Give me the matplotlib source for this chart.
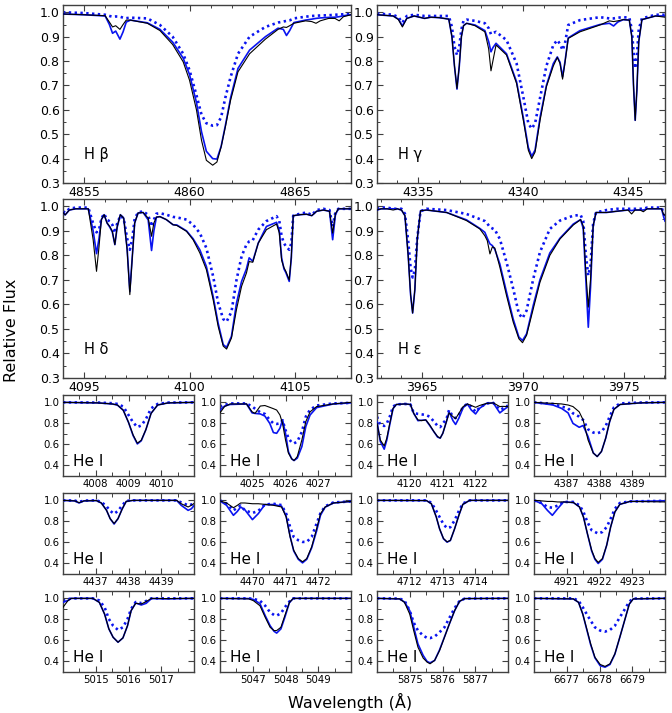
import matplotlib
matplotlib.use('Agg')
import matplotlib.pyplot as plt
from matplotlib.ticker import MultipleLocator, FixedLocator, FormatStrFormatter

# ---------------- data ----------------
# H beta
hb_wave = [4854.0, 4855.0, 4856.0, 4856.2, 4856.35, 4856.5, 4856.7, 4856.85, 4857.0, 4857.2, 4858.0, 4858.6, 4859.2, 4859.7, 4860.0, 4860.33, 4860.57, 4860.8, 4861.1, 4861.3, 4861.5, 4861.7, 4861.95, 4862.3, 4862.85, 4863.6, 4864.2, 4864.45, 4864.6, 4864.75, 4864.95, 4865.5, 4865.8, 4866.0, 4866.2, 4866.6, 4866.9, 4867.1, 4867.3, 4867.66]
hb_obs = [0.993, 0.990, 0.986, 0.960, 0.940, 0.945, 0.930, 0.950, 0.968, 0.968, 0.955, 0.925, 0.868, 0.797, 0.722, 0.600, 0.475, 0.393, 0.373, 0.386, 0.448, 0.530, 0.640, 0.756, 0.830, 0.890, 0.930, 0.940, 0.938, 0.945, 0.955, 0.965, 0.962, 0.955, 0.965, 0.975, 0.975, 0.965, 0.982, 0.990]
hb_fit = [0.993, 0.990, 0.985, 0.950, 0.914, 0.923, 0.890, 0.920, 0.960, 0.968, 0.957, 0.930, 0.878, 0.812, 0.745, 0.630, 0.510, 0.430, 0.400, 0.398, 0.450, 0.535, 0.650, 0.770, 0.845, 0.900, 0.935, 0.930, 0.905, 0.925, 0.958, 0.968, 0.972, 0.975, 0.977, 0.979, 0.980, 0.982, 0.986, 0.990]
hb_comp = [1.0, 0.997, 0.990, 0.985, 0.982, 0.983, 0.982, 0.978, 0.976, 0.978, 0.975, 0.948, 0.900, 0.830, 0.763, 0.660, 0.580, 0.545, 0.535, 0.537, 0.570, 0.650, 0.735, 0.830, 0.900, 0.940, 0.958, 0.962, 0.965, 0.967, 0.975, 0.982, 0.985, 0.986, 0.987, 0.988, 0.990, 0.991, 0.992, 0.993]

# H gamma
hg_wave = [4333.03, 4333.8, 4334.05, 4334.24, 4334.45, 4334.8, 4335.3, 4335.6, 4336.0, 4336.45, 4336.6, 4336.72, 4336.84, 4336.95, 4337.05, 4337.15, 4337.3, 4337.7, 4338.17, 4338.35, 4338.46, 4338.55, 4338.7, 4339.2, 4339.68, 4340.0, 4340.24, 4340.4, 4340.56, 4340.8, 4341.1, 4341.43, 4341.62, 4341.75, 4341.87, 4341.98, 4342.14, 4342.7, 4343.65, 4344.1, 4344.3, 4344.5, 4344.76, 4345.05, 4345.17, 4345.25, 4345.33, 4345.41, 4345.5, 4345.65, 4346.3, 4346.75]
hg_obs = [0.99, 0.985, 0.97, 0.94, 0.975, 0.985, 0.975, 0.98, 0.978, 0.972, 0.90, 0.78, 0.688, 0.78, 0.90, 0.945, 0.955, 0.945, 0.92, 0.85, 0.76, 0.80, 0.866, 0.825, 0.708, 0.558, 0.434, 0.40, 0.427, 0.558, 0.695, 0.78, 0.815, 0.79, 0.726, 0.79, 0.893, 0.92, 0.948, 0.965, 0.962, 0.965, 0.97, 0.968, 0.90, 0.70, 0.557, 0.68, 0.88, 0.97, 0.985, 0.98]
hg_fit = [0.99, 0.985, 0.972, 0.945, 0.975, 0.985, 0.975, 0.98, 0.978, 0.972, 0.90, 0.78, 0.685, 0.78, 0.90, 0.945, 0.955, 0.948, 0.925, 0.88, 0.838, 0.855, 0.873, 0.83, 0.715, 0.568, 0.445, 0.41, 0.435, 0.57, 0.70, 0.79, 0.817, 0.795, 0.735, 0.795, 0.895, 0.925, 0.95, 0.955, 0.944, 0.96, 0.97, 0.968, 0.90, 0.70, 0.557, 0.68, 0.88, 0.97, 0.985, 0.985]
hg_comp = [0.995, 0.99, 0.98, 0.958, 0.985, 0.99, 0.985, 0.985, 0.985, 0.985, 0.94, 0.86, 0.825, 0.86, 0.93, 0.965, 0.97, 0.965, 0.955, 0.935, 0.91, 0.915, 0.92, 0.886, 0.79, 0.653, 0.544, 0.523, 0.544, 0.65, 0.78, 0.866, 0.886, 0.87, 0.845, 0.87, 0.948, 0.968, 0.98, 0.975, 0.975, 0.978, 0.98, 0.978, 0.93, 0.84, 0.77, 0.82, 0.93, 0.975, 0.99, 0.99]

# H delta
hd_wave = [4094.0, 4094.1, 4094.3, 4094.6, 4095.0, 4095.2, 4095.43, 4095.59, 4095.71, 4095.82, 4095.95, 4096.09, 4096.22, 4096.34, 4096.46, 4096.57, 4096.72, 4096.88, 4097.04, 4097.17, 4097.29, 4097.4, 4097.56, 4097.8, 4098.04, 4098.2, 4098.31, 4098.43, 4098.6, 4098.9, 4099.22, 4099.4, 4099.86, 4100.17, 4100.49, 4100.8, 4101.12, 4101.36, 4101.6, 4101.76, 4101.99, 4102.23, 4102.47, 4102.7, 4102.83, 4103.0, 4103.26, 4103.65, 4104.13, 4104.26, 4104.37, 4104.48, 4104.57, 4104.73, 4104.83, 4104.92, 4105.24, 4105.55, 4105.8, 4106.03, 4106.35, 4106.64, 4106.79, 4106.92, 4107.06, 4107.66]
hd_obs = [0.975, 0.965, 0.985, 0.99, 0.99, 0.99, 0.864, 0.735, 0.837, 0.946, 0.966, 0.932, 0.918, 0.898, 0.844, 0.918, 0.966, 0.952, 0.823, 0.640, 0.796, 0.932, 0.973, 0.975, 0.952, 0.878, 0.932, 0.956, 0.958, 0.946, 0.925, 0.922, 0.898, 0.864, 0.81, 0.742, 0.62, 0.51, 0.43, 0.418, 0.463, 0.58, 0.674, 0.728, 0.775, 0.772, 0.85, 0.905, 0.928, 0.891, 0.78, 0.75, 0.735, 0.70, 0.796, 0.962, 0.966, 0.968, 0.962, 0.98, 0.985, 0.98, 0.891, 0.97, 0.99, 0.99]
hd_fit = [0.975, 0.965, 0.985, 0.99, 0.99, 0.99, 0.90, 0.807, 0.87, 0.946, 0.966, 0.932, 0.915, 0.895, 0.844, 0.915, 0.966, 0.952, 0.83, 0.653, 0.80, 0.932, 0.973, 0.975, 0.945, 0.82, 0.90, 0.956, 0.958, 0.946, 0.925, 0.924, 0.90, 0.868, 0.823, 0.755, 0.633, 0.523, 0.436, 0.425, 0.47, 0.606, 0.694, 0.745, 0.79, 0.776, 0.85, 0.918, 0.935, 0.90, 0.79, 0.745, 0.73, 0.694, 0.79, 0.962, 0.966, 0.968, 0.962, 0.98, 0.985, 0.98, 0.864, 0.965, 0.99, 0.99]
hd_comp = [0.98, 0.975, 0.99, 0.995, 0.995, 0.995, 0.93, 0.894, 0.905, 0.95, 0.97, 0.945, 0.939, 0.925, 0.891, 0.93, 0.962, 0.95, 0.87, 0.823, 0.87, 0.95, 0.975, 0.98, 0.965, 0.918, 0.945, 0.97, 0.972, 0.966, 0.957, 0.955, 0.946, 0.925, 0.891, 0.83, 0.715, 0.606, 0.54, 0.53, 0.57, 0.70, 0.796, 0.844, 0.857, 0.862, 0.905, 0.94, 0.96, 0.94, 0.878, 0.85, 0.837, 0.823, 0.85, 0.962, 0.97, 0.975, 0.965, 0.985, 0.99, 0.985, 0.918, 0.975, 0.99, 0.99]

# H epsilon
he_wave = [3962.8, 3963.0, 3963.3, 3963.6, 3963.8, 3964.01, 3964.18, 3964.34, 3964.46, 3964.56, 3964.67, 3964.79, 3964.95, 3965.25, 3966.24, 3967.22, 3967.88, 3968.13, 3968.25, 3968.38, 3968.5, 3968.62, 3968.87, 3969.2, 3969.53, 3969.81, 3969.99, 3970.19, 3970.52, 3970.85, 3971.34, 3971.84, 3972.5, 3972.86, 3972.99, 3973.12, 3973.24, 3973.35, 3973.48, 3973.62, 3974.14, 3974.64, 3975.2, 3975.38, 3975.55, 3975.8, 3975.96, 3976.15, 3976.45, 3976.86, 3976.97, 3977.03]
he_obs = [0.985, 0.99, 0.99, 0.985, 0.99, 0.985, 0.962, 0.80, 0.64, 0.565, 0.66, 0.867, 0.982, 0.985, 0.975, 0.942, 0.908, 0.88, 0.86, 0.806, 0.835, 0.83, 0.752, 0.636, 0.528, 0.46, 0.444, 0.474, 0.582, 0.69, 0.80, 0.867, 0.924, 0.946, 0.92, 0.73, 0.589, 0.70, 0.92, 0.975, 0.975, 0.98, 0.985, 0.969, 0.985, 0.985, 0.978, 0.99, 0.99, 0.99, 0.965, 0.965]
he_fit = [0.985, 0.99, 0.99, 0.99, 0.99, 0.985, 0.962, 0.80, 0.64, 0.565, 0.66, 0.867, 0.982, 0.985, 0.975, 0.945, 0.91, 0.894, 0.87, 0.847, 0.84, 0.825, 0.765, 0.65, 0.54, 0.467, 0.453, 0.48, 0.596, 0.70, 0.81, 0.87, 0.928, 0.946, 0.91, 0.70, 0.507, 0.67, 0.92, 0.975, 0.975, 0.98, 0.985, 0.983, 0.985, 0.985, 0.985, 0.99, 0.99, 0.99, 0.955, 0.94]
he_comp = [0.99, 0.995, 0.995, 0.99, 0.99, 0.99, 0.97, 0.86, 0.75, 0.71, 0.74, 0.87, 0.98, 0.99, 0.985, 0.969, 0.948, 0.94, 0.93, 0.915, 0.91, 0.905, 0.867, 0.772, 0.664, 0.562, 0.544, 0.575, 0.704, 0.813, 0.908, 0.942, 0.962, 0.965, 0.94, 0.80, 0.718, 0.76, 0.93, 0.975, 0.985, 0.99, 0.99, 0.99, 0.99, 0.99, 0.99, 0.995, 0.995, 0.995, 0.97, 0.96]

# He I 4009
he4009_wave = [4007.0, 4008.07, 4008.5, 4008.66, 4008.84, 4009.0, 4009.14, 4009.27, 4009.39, 4009.53, 4009.69, 4009.89, 4010.21, 4011.0]
he4009_obs = [1.0, 0.995, 0.985, 0.975, 0.925, 0.81, 0.69, 0.612, 0.64, 0.74, 0.896, 0.975, 0.995, 1.0]
he4009_fit = [1.0, 0.995, 0.985, 0.975, 0.925, 0.81, 0.685, 0.605, 0.635, 0.74, 0.896, 0.975, 0.995, 1.0]
he4009_comp = [1.0, 0.998, 0.992, 0.985, 0.96, 0.88, 0.81, 0.765, 0.78, 0.84, 0.943, 0.985, 0.998, 1.0]

# He I 4026
he4026_wave = [4024.0, 4024.14, 4024.31, 4024.81, 4024.98, 4025.07, 4025.23, 4025.37, 4025.52, 4025.63, 4025.73, 4025.83, 4025.91, 4026.0, 4026.09, 4026.19, 4026.26, 4026.36, 4026.5, 4026.62, 4026.75, 4026.95, 4027.46, 4028.0]
he4026_obs = [0.90, 0.96, 0.985, 0.985, 0.91, 0.895, 0.965, 0.97, 0.953, 0.94, 0.927, 0.88, 0.80, 0.643, 0.517, 0.463, 0.447, 0.485, 0.643, 0.817, 0.91, 0.96, 0.985, 1.0]
he4026_fit = [0.927, 0.965, 0.98, 0.985, 0.90, 0.895, 0.89, 0.87, 0.80, 0.713, 0.706, 0.754, 0.833, 0.706, 0.53, 0.463, 0.447, 0.47, 0.58, 0.77, 0.88, 0.95, 0.985, 0.995]
he4026_comp = [0.96, 0.975, 0.99, 0.99, 0.96, 0.94, 0.905, 0.89, 0.833, 0.80, 0.795, 0.80, 0.83, 0.737, 0.66, 0.618, 0.61, 0.627, 0.72, 0.864, 0.93, 0.97, 0.99, 0.995]

# He I 4121
he4121_wave = [4119.0, 4119.1, 4119.22, 4119.3, 4119.39, 4119.49, 4119.59, 4119.85, 4120.02, 4120.12, 4120.25, 4120.36, 4120.49, 4120.61, 4120.74, 4120.85, 4120.93, 4121.01, 4121.12, 4121.2, 4121.32, 4121.4, 4121.5, 4121.63, 4121.76, 4121.88, 4122.01, 4122.13, 4122.34, 4122.55, 4122.75, 4122.83, 4123.0]
he4121_obs = [0.80, 0.643, 0.586, 0.66, 0.80, 0.943, 0.98, 0.985, 0.98, 0.896, 0.833, 0.826, 0.833, 0.785, 0.72, 0.675, 0.66, 0.706, 0.817, 0.90, 0.864, 0.845, 0.896, 0.96, 0.985, 0.97, 0.953, 0.97, 0.99, 0.995, 0.96, 0.962, 0.96]
he4121_fit = [0.817, 0.63, 0.555, 0.643, 0.79, 0.94, 0.98, 0.985, 0.98, 0.896, 0.826, 0.83, 0.833, 0.78, 0.72, 0.67, 0.66, 0.706, 0.817, 0.91, 0.826, 0.79, 0.85, 0.95, 0.985, 0.927, 0.89, 0.943, 0.99, 0.995, 0.90, 0.92, 0.96]
he4121_comp = [0.864, 0.785, 0.776, 0.80, 0.864, 0.96, 0.98, 0.985, 0.98, 0.90, 0.89, 0.886, 0.88, 0.864, 0.817, 0.776, 0.765, 0.80, 0.84, 0.927, 0.864, 0.85, 0.88, 0.96, 0.985, 0.96, 0.91, 0.95, 0.99, 0.995, 0.93, 0.94, 0.97]

# He I 4388
he4388_wave = [4386.0, 4386.58, 4386.84, 4387.04, 4387.19, 4387.38, 4387.5, 4387.65, 4387.81, 4387.93, 4388.06, 4388.19, 4388.31, 4388.44, 4388.63, 4389.24, 4390.0]
he4388_obs = [1.0, 0.99, 0.985, 0.975, 0.96, 0.91, 0.833, 0.643, 0.517, 0.485, 0.533, 0.66, 0.817, 0.934, 0.98, 0.995, 1.0]
he4388_fit = [1.0, 0.975, 0.943, 0.90, 0.80, 0.763, 0.78, 0.675, 0.52, 0.485, 0.533, 0.66, 0.817, 0.934, 0.98, 0.995, 1.0]
he4388_comp = [1.0, 0.985, 0.96, 0.943, 0.896, 0.864, 0.833, 0.744, 0.713, 0.706, 0.72, 0.776, 0.864, 0.953, 0.99, 0.998, 1.0]

# He I 4438
he4438_wave = [4436.0, 4436.36, 4436.49, 4436.64, 4437.02, 4437.17, 4437.33, 4437.44, 4437.56, 4437.68, 4437.81, 4437.93, 4438.14, 4439.47, 4439.61, 4439.82, 4439.92, 4440.0]
he4438_obs = [1.0, 0.995, 0.978, 0.995, 0.998, 0.975, 0.905, 0.826, 0.78, 0.826, 0.92, 0.99, 1.0, 1.0, 0.968, 0.937, 0.953, 0.97]
he4438_fit = [1.0, 0.995, 0.975, 0.995, 0.998, 0.975, 0.905, 0.826, 0.775, 0.826, 0.92, 0.99, 1.0, 1.0, 0.953, 0.905, 0.92, 0.95]
he4438_comp = [1.0, 0.998, 0.985, 0.998, 1.0, 0.985, 0.943, 0.90, 0.872, 0.90, 0.953, 0.995, 1.0, 1.0, 0.98, 0.953, 0.96, 0.97]

# He I 4471
he4471_wave = [4469.0, 4469.2, 4469.41, 4469.53, 4469.63, 4469.76, 4469.99, 4470.17, 4470.37, 4470.63, 4470.88, 4471.02, 4471.14, 4471.25, 4471.39, 4471.52, 4471.65, 4471.8, 4471.95, 4472.07, 4472.21, 4472.46, 4473.0]
he4471_obs = [0.995, 0.975, 0.93, 0.953, 0.975, 0.975, 0.968, 0.968, 0.962, 0.953, 0.937, 0.842, 0.653, 0.526, 0.447, 0.416, 0.447, 0.558, 0.73, 0.874, 0.937, 0.975, 0.99]
he4471_fit = [0.995, 0.953, 0.858, 0.895, 0.937, 0.91, 0.817, 0.874, 0.96, 0.96, 0.945, 0.85, 0.66, 0.52, 0.44, 0.406, 0.44, 0.55, 0.71, 0.86, 0.935, 0.975, 0.99]
he4471_comp = [1.0, 0.97, 0.905, 0.93, 0.95, 0.905, 0.88, 0.90, 0.96, 0.968, 0.955, 0.874, 0.747, 0.653, 0.621, 0.605, 0.605, 0.653, 0.78, 0.88, 0.943, 0.98, 0.99]

# He I 4713
he4713_wave = [4711.0, 4712.51, 4712.66, 4712.81, 4712.91, 4713.03, 4713.14, 4713.24, 4713.37, 4713.5, 4713.62, 4713.83, 4715.0]
he4713_obs = [1.0, 0.998, 0.968, 0.842, 0.73, 0.637, 0.605, 0.62, 0.73, 0.858, 0.962, 1.0, 1.0]
he4713_fit = [1.0, 0.998, 0.968, 0.842, 0.73, 0.635, 0.603, 0.618, 0.73, 0.858, 0.962, 1.0, 1.0]
he4713_comp = [1.0, 1.0, 0.978, 0.90, 0.842, 0.773, 0.735, 0.745, 0.81, 0.90, 0.97, 1.0, 1.0]

# He I 4922
he4922_wave = [4920.0, 4920.24, 4920.41, 4920.56, 4920.72, 4920.9, 4921.2, 4921.39, 4921.51, 4921.63, 4921.76, 4921.86, 4921.96, 4922.09, 4922.22, 4922.34, 4922.47, 4922.62, 4922.93, 4924.0]
he4922_obs = [1.0, 0.995, 0.99, 0.99, 0.985, 0.985, 0.98, 0.937, 0.842, 0.684, 0.526, 0.447, 0.41, 0.447, 0.574, 0.747, 0.89, 0.962, 0.99, 0.985]
he4922_fit = [1.0, 0.968, 0.905, 0.858, 0.92, 0.985, 0.98, 0.937, 0.842, 0.684, 0.52, 0.44, 0.40, 0.44, 0.574, 0.747, 0.89, 0.962, 0.99, 0.995]
he4922_comp = [1.0, 0.975, 0.937, 0.93, 0.95, 0.985, 0.985, 0.953, 0.89, 0.795, 0.716, 0.70, 0.684, 0.70, 0.747, 0.826, 0.92, 0.975, 0.99, 0.995]

# He I 5016
he5016_wave = [5014.0, 5014.15, 5014.25, 5014.91, 5015.11, 5015.27, 5015.4, 5015.53, 5015.68, 5015.83, 5015.97, 5016.08, 5016.22, 5016.39, 5016.54, 5016.7, 5017.16, 5018.0]
he5016_obs = [0.915, 0.978, 1.0, 1.0, 0.962, 0.85, 0.71, 0.63, 0.583, 0.624, 0.74, 0.883, 0.953, 0.946, 0.97, 1.0, 0.998, 1.0]
he5016_fit = [0.962, 0.98, 1.0, 1.0, 0.962, 0.85, 0.71, 0.63, 0.583, 0.624, 0.74, 0.883, 0.956, 0.937, 0.953, 0.998, 0.995, 1.0]
he5016_comp = [0.978, 0.99, 1.0, 1.0, 0.98, 0.915, 0.804, 0.74, 0.70, 0.725, 0.804, 0.90, 0.965, 0.955, 0.975, 1.0, 1.0, 1.0]

# He I 5048
he5048_wave = [5046.0, 5046.88, 5047.02, 5047.22, 5047.38, 5047.53, 5047.65, 5047.73, 5047.86, 5047.98, 5048.12, 5048.24, 5050.0]
he5048_obs = [1.0, 0.995, 0.978, 0.93, 0.82, 0.725, 0.694, 0.694, 0.725, 0.836, 0.962, 1.0, 1.0]
he5048_fit = [1.0, 0.998, 0.99, 0.95, 0.836, 0.74, 0.687, 0.67, 0.71, 0.82, 0.96, 1.0, 1.0]
he5048_comp = [1.0, 1.0, 0.995, 0.978, 0.93, 0.867, 0.842, 0.836, 0.858, 0.915, 0.97, 1.0, 1.0]

# He I 5876
he5876_wave = [5874.0, 5874.69, 5874.84, 5875.0, 5875.12, 5875.25, 5875.41, 5875.53, 5875.62, 5875.76, 5875.91, 5876.06, 5876.21, 5876.37, 5876.52, 5876.68, 5878.0]
he5876_obs = [1.0, 0.995, 0.962, 0.85, 0.694, 0.536, 0.432, 0.394, 0.378, 0.41, 0.504, 0.63, 0.757, 0.883, 0.972, 0.998, 1.0]
he5876_fit = [1.0, 0.995, 0.965, 0.883, 0.73, 0.567, 0.457, 0.40, 0.387, 0.41, 0.51, 0.633, 0.757, 0.883, 0.972, 0.998, 1.0]
he5876_comp = [1.0, 0.998, 0.978, 0.883, 0.77, 0.694, 0.646, 0.624, 0.622, 0.637, 0.678, 0.725, 0.814, 0.908, 0.975, 0.998, 1.0]

# He I 6678
he6678_wave = [6676.0, 6677.2, 6677.36, 6677.49, 6677.61, 6677.73, 6677.86, 6678.02, 6678.17, 6678.32, 6678.47, 6678.62, 6678.78, 6678.91, 6679.03, 6680.0]
he6678_obs = [1.0, 0.995, 0.962, 0.85, 0.71, 0.567, 0.44, 0.372, 0.353, 0.378, 0.473, 0.63, 0.804, 0.946, 0.995, 1.0]
he6678_fit = [1.0, 0.995, 0.962, 0.85, 0.705, 0.56, 0.435, 0.36, 0.346, 0.372, 0.47, 0.63, 0.804, 0.946, 0.995, 1.0]
he6678_comp = [1.0, 1.0, 0.978, 0.915, 0.85, 0.788, 0.725, 0.694, 0.684, 0.70, 0.74, 0.82, 0.90, 0.97, 0.998, 1.0]

# tick labels of the small panels (centre wavelengths)
small_centres = [4009, 4026, 4121, 4388, 4438, 4471, 4713, 4922, 5016, 5048, 5876, 6678]

big_labels = ['H β', 'H γ', 'H δ', 'H ε']
small_label = 'He I'

# ---------------- figure ----------------
FW, FH = 672, 713
fig = plt.figure(figsize=(FW / 100, FH / 100), dpi=100)

def add_ax(x0, y0, x1, y1):
    return fig.add_axes([x0 / FW, 1 - y1 / FH, (x1 - x0) / FW, (y1 - y0) / FH])

BLUE = '#0a14f0'

def draw(ax, wave, obs, fit, comp):
    ax.plot(wave, comp, color=BLUE, lw=1.9, ls=(0, (0.9, 1.3)), zorder=2)
    ax.plot(wave, fit, color=BLUE, lw=1.2, zorder=3)
    ax.plot(wave, obs, color='black', lw=0.8, zorder=4)

def style(ax, big):
    for s in ax.spines.values():
        s.set_color('#404040')
        s.set_linewidth(1.0)
    fs = 9 if big else 7.3
    ax.tick_params(which='both', direction='in', top=True, right=True,
                   labelsize=fs, pad=2.5, color='#404040')
    ax.tick_params(which='major', length=4, width=0.8)
    ax.tick_params(which='minor', length=2.5 if big else 3.2, width=0.7)

big_boxes = [(63, 5, 351, 183), (377, 5, 665, 183), (63, 199, 351, 378), (377, 199, 665, 378)]
big_data = [(hb_wave, hb_obs, hb_fit, hb_comp, (4854.0, 4867.66)),
            (hg_wave, hg_obs, hg_fit, hg_comp, (4333.03, 4346.75)),
            (hd_wave, hd_obs, hd_fit, hd_comp, (4094.0, 4107.66)),
            (he_wave, he_obs, he_fit, he_comp, (3962.8, 3977.03))]

for box, (w, o, f, c, xl), lab in zip(big_boxes, big_data, big_labels):
    ax = add_ax(*box)
    draw(ax, w, o, f, c)
    ax.set_xlim(*xl)
    ax.set_ylim(0.3, 1.03)
    ax.xaxis.set_major_locator(MultipleLocator(5))
    ax.xaxis.set_minor_locator(MultipleLocator(1))
    ax.yaxis.set_major_locator(MultipleLocator(0.1))
    ax.yaxis.set_minor_locator(MultipleLocator(0.05))
    ax.yaxis.set_major_formatter(FormatStrFormatter('%.1f'))
    ax.xaxis.set_major_formatter(FormatStrFormatter('%d'))
    style(ax, True)
    ax.text(0.073, 0.135, lab, transform=ax.transAxes, fontsize=10.5, ha='left', va='baseline')

cols = [(63, 194), (220, 351), (377, 508), (534, 665)]
rows = [(395, 476), (493, 574), (591, 672)]
small_data = [
    (he4009_wave, he4009_obs, he4009_fit, he4009_comp),
    (he4026_wave, he4026_obs, he4026_fit, he4026_comp),
    (he4121_wave, he4121_obs, he4121_fit, he4121_comp),
    (he4388_wave, he4388_obs, he4388_fit, he4388_comp),
    (he4438_wave, he4438_obs, he4438_fit, he4438_comp),
    (he4471_wave, he4471_obs, he4471_fit, he4471_comp),
    (he4713_wave, he4713_obs, he4713_fit, he4713_comp),
    (he4922_wave, he4922_obs, he4922_fit, he4922_comp),
    (he5016_wave, he5016_obs, he5016_fit, he5016_comp),
    (he5048_wave, he5048_obs, he5048_fit, he5048_comp),
    (he5876_wave, he5876_obs, he5876_fit, he5876_comp),
    (he6678_wave, he6678_obs, he6678_fit, he6678_comp),
]

for i, ((w, o, f, c), ctr) in enumerate(zip(small_data, small_centres)):
    r, k = divmod(i, 4)
    x0, x1 = cols[k]
    y0, y1 = rows[r]
    ax = add_ax(x0, y0, x1, y1)
    draw(ax, w, o, f, c)
    ax.set_xlim(ctr - 2, ctr + 2)
    ax.set_ylim(0.3, 1.07)
    ax.xaxis.set_major_locator(FixedLocator([ctr - 1, ctr, ctr + 1]))
    ax.xaxis.set_minor_locator(MultipleLocator(0.5))
    ax.yaxis.set_major_locator(MultipleLocator(0.2))
    ax.yaxis.set_minor_locator(MultipleLocator(0.1))
    ax.yaxis.set_major_formatter(FormatStrFormatter('%.1f'))
    ax.xaxis.set_major_formatter(FormatStrFormatter('%d'))
    style(ax, False)
    ax.text(0.076, 0.12, small_label, transform=ax.transAxes, fontsize=11, ha='left', va='baseline')

fig.text(12 / FW, 1 - 330 / FH, 'Relative Flux', rotation=90, ha='center', va='center', fontsize=11.5)
fig.text(350 / FW, 1 - 702 / FH, 'Wavelength (Å)', ha='center', va='center', fontsize=11.5)

fig.savefig('out.png', dpi=100)
